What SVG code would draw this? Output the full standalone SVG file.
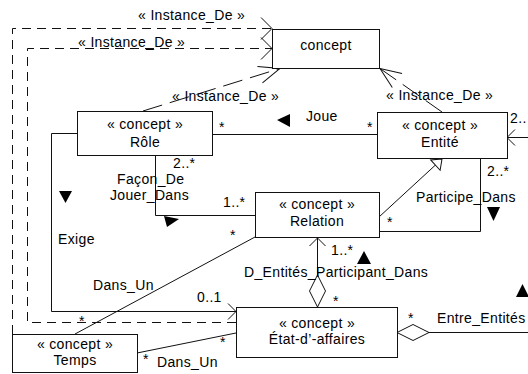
<svg xmlns="http://www.w3.org/2000/svg" width="528" height="374" viewBox="0 0 528 374">
  <style>
    text { font-family: "Liberation Sans", Arial, sans-serif; font-size: 14px; letter-spacing: 0.35px; fill: #000; }
    .c { text-anchor: middle; }
    .box { fill: #fff; stroke: #111; stroke-width: 1; }
    .ln { fill: none; stroke: #111; stroke-width: 1; }
    .dash { stroke-dasharray: 9 6; }
    .ldash { stroke-dasharray: 20 8; }
    .tri { fill: #000; stroke: none; }
  </style>
  <defs>
    <marker id="open" markerUnits="userSpaceOnUse" orient="auto" refX="0" refY="0" overflow="visible">
      <path d="M-8,-8 L0,0 L-8,8" fill="none" stroke="#111" stroke-dasharray="none"/>
    </marker>
    <marker id="open-wide" markerUnits="userSpaceOnUse" orient="auto" refX="0" refY="0" overflow="visible">
      <path d="M-11,-11 L0,0 L-11,11" fill="none" stroke="#111" stroke-dasharray="none"/>
    </marker>
    <marker id="open-long" markerUnits="userSpaceOnUse" orient="auto" refX="0" refY="0" overflow="visible">
      <path d="M-21,-8.5 L0,0 L-21,8.5" fill="none" stroke="#111" stroke-dasharray="none"/>
    </marker>
    <marker id="gen" markerUnits="userSpaceOnUse" orient="auto" refX="0" refY="0" overflow="visible">
      <path d="M0,0 L-9,-7 L-9,7 Z" fill="#fff" stroke="#111"/>
    </marker>
    <marker id="agg" markerUnits="userSpaceOnUse" orient="auto" refX="0" refY="0" overflow="visible">
      <path d="M0,0 L16,-8 L32,0 L16,8 Z" fill="#fff" stroke="#111"/>
    </marker>
  </defs>

  <!-- connectors -->
  <g id="connectors">
    <!-- instance-of links to the concept metaclass -->
    <path class="ln dash" d="M12.5,334 L12.5,28.5 L272,28.5" marker-end="url(#open-wide)"/>
    <path class="ln dash" d="M236,322.5 L27.5,322.5 L27.5,48.5 L272,48.5" marker-end="url(#open-wide)"/>
    <path class="ln ldash" d="M143,111 L280,68.5" marker-end="url(#open-long)"/>
    <path class="ln ldash" d="M442,112 L380,68.5" marker-end="url(#open-long)"/>

    <!-- Joue -->
    <path class="ln" d="M212,134.5 L377,134.5"/>
    <!-- Exige -->
    <path class="ln" d="M77,133.5 L51.5,133.5 L51.5,311.5 L236,311.5" marker-end="url(#open)"/>
    <!-- Façon_De_Jouer_Dans -->
    <path class="ln" d="M155.5,155 L155.5,215.5 L255,215.5"/>
    <!-- Participe_Dans -->
    <path class="ln" d="M480.5,158 L480.5,231.5 L379,231.5"/>
    <!-- Relation specialises Entité -->
    <path class="ln" d="M379,217 L442,159" marker-end="url(#gen)"/>
    <!-- D_Entités_Participant_Dans -->
    <path class="ln" d="M317.5,307 L317.5,238" marker-start="url(#agg)" marker-end="url(#open)"/>
    <!-- Entre_Entités -->
    <path class="ln" d="M397,332.5 L540,332.5" marker-start="url(#agg)"/>
    <path class="ln" d="M540,137.5 L507,137.5" marker-end="url(#open)"/>
    <!-- Dans_Un links from Temps -->
    <path class="ln" d="M75,334 L255,237"/>
    <path class="ln" d="M137,353 L236,333"/>

    <!-- reading-direction triangles -->
    <polygon class="tri" points="277,120 290,114 290,127"/>
    <polygon class="tri" points="164,216 179,219 167,227"/>
    <polygon class="tri" points="59,191 72,191 65.5,203"/>
    <polygon class="tri" points="487,207 500,207 493.5,221"/>
    <polygon class="tri" points="357,264 371,264 364,251"/>
    <polygon class="tri" points="516,297 529,297 522.5,284"/>

    <!-- labels -->
    <text x="138" y="20">« Instance_De »</text>
    <text x="78" y="47">« Instance_De »</text>
    <text x="172" y="101">« Instance_De »</text>
    <text x="386" y="100">« Instance_De »</text>
    <text x="306" y="121">Joue</text>
    <text x="219" y="132">*</text>
    <text x="367" y="132">*</text>
    <text x="510" y="123">2..</text>
    <text x="173" y="168">2..*</text>
    <text x="117" y="184">Façon_De</text>
    <text x="110" y="200">Jouer_Dans</text>
    <text x="223" y="207">1..*</text>
    <text x="230" y="240">*</text>
    <text x="58" y="244">Exige</text>
    <text x="93" y="290">Dans_Un</text>
    <text x="197" y="302">0..1</text>
    <text x="79" y="326">*</text>
    <text x="220" y="347">*</text>
    <text x="143" y="364">*</text>
    <text x="157" y="367">Dans_Un</text>
    <text x="487" y="176">2..*</text>
    <text x="416" y="202">Participe_Dans</text>
    <text x="387" y="227">*</text>
    <text x="331" y="255">1..*</text>
    <text x="244" y="277">D_Entités_Participant_Dans</text>
    <text x="333" y="306">*</text>
    <text x="408" y="323">*</text>
    <text x="437" y="323">Entre_Entités</text>
  </g>

  <!-- nodes -->
  <g id="concept">
    <rect class="box" x="272.5" y="29.5" width="107" height="39"/>
    <text class="c" x="326" y="50">concept</text>
  </g>
  <g id="role">
    <rect class="box" x="77.5" y="111.5" width="135" height="44"/>
    <text class="c" x="145" y="129">« concept »</text>
    <text class="c" x="145" y="147">Rôle</text>
  </g>
  <g id="entite">
    <rect class="box" x="377.5" y="112.5" width="130" height="46"/>
    <text class="c" x="440" y="130">« concept »</text>
    <text class="c" x="440" y="147">Entité</text>
  </g>
  <g id="relation">
    <rect class="box" x="255.5" y="192.5" width="124" height="45"/>
    <text class="c" x="317" y="209">« concept »</text>
    <text class="c" x="317" y="226">Relation</text>
  </g>
  <g id="etat">
    <rect class="box" x="236.5" y="307.5" width="161" height="50"/>
    <text class="c" x="317" y="328">« concept »</text>
    <text class="c" x="317" y="344">État-d’-affaires</text>
  </g>
  <g id="temps">
    <rect class="box" x="12.5" y="334.5" width="125" height="38"/>
    <text class="c" x="75" y="349">« concept »</text>
    <text class="c" x="75" y="365">Temps</text>
  </g>
</svg>
